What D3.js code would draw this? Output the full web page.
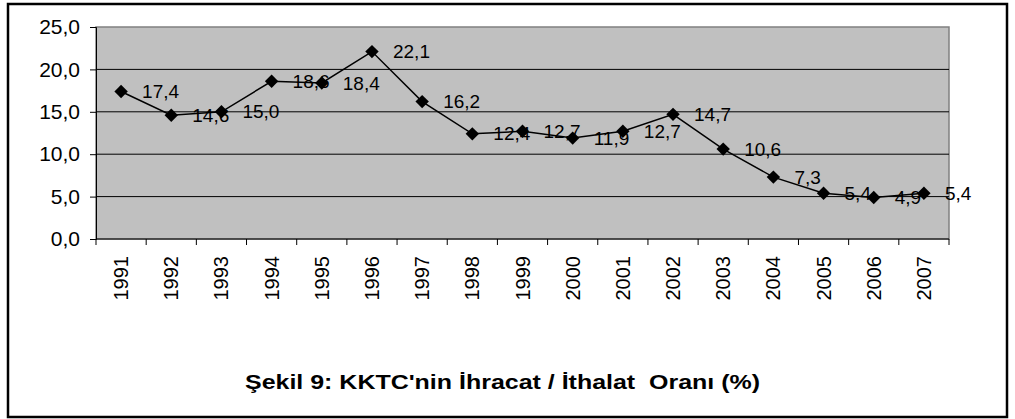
<!DOCTYPE html>
<html>
<head>
<meta charset="utf-8">
<script src="https://cdn.jsdelivr.net/npm/d3@7"></script>
<style>
  body { margin: 0; background: #fff; }
  text { font-family: "Liberation Sans", Arial, sans-serif; fill: #000; }
</style>
</head>
<body>
<div id="chart"></div>
<script>
// data
let years = ["1991","1992","1993","1994","1995","1996","1997","1998","1999","2000","2001","2002","2003","2004","2005","2006","2007"];
let ratio = [17.4, 14.6, 15.0, 18.6, 18.4, 22.1, 16.2, 12.4, 12.7, 11.9, 12.7, 14.7, 10.6, 7.3, 5.4, 4.9, 5.4];
let yTicks = [0, 5, 10, 15, 20, 25];
let title = "Şekil 9: KKTC'nin İhracat / İthalat  Oranı (%)";

let width = 1015,
    height = 419;
let plot = {left: 96, right: 949, top: 27, bottom: 239};

let svg = d3.select("div#chart").append("svg")
            .attr("width", width)
            .attr("height", height);

// outer frame
svg.append("rect")
  .attr("x", 8).attr("y", 4)
  .attr("width", 999).attr("height", 413)
  .style("fill", "none")
  .style("stroke", "#000")
  .style("stroke-width", 2.5);

let x = d3.scaleBand().domain(years).range([plot.left, plot.right]);
let y = d3.scaleLinear().domain([0, 25]).range([plot.bottom, plot.top]);
let fmt = function(v) { return d3.format(".1f")(v).replace(".", ","); };

// plot area
svg.append("rect")
  .attr("x", plot.left).attr("y", plot.top)
  .attr("width", plot.right - plot.left)
  .attr("height", plot.bottom - plot.top)
  .style("fill", "#c0c0c0")
  .style("stroke", "#808080")
  .style("stroke-width", 1.5);

// gridlines
svg.selectAll("line.grid")
  .data(yTicks.filter(d => d > 0 && d < 25))
  .enter().append("line")
  .attr("class", "grid")
  .attr("x1", plot.left).attr("x2", plot.right)
  .attr("y1", d => y(d)).attr("y2", d => y(d))
  .style("stroke", "#000")
  .style("stroke-width", 1);

// y axis
let yAxis = svg.append("g")
  .attr("transform", "translate(" + plot.left + ",0)")
  .call(d3.axisLeft(y).tickValues(yTicks).tickFormat(fmt).tickSize(6).tickPadding(10));
yAxis.select(".domain").style("stroke", "#000");
yAxis.selectAll("text").style("font-size", "21px").attr("font-family", null);

// x axis: ticks on category boundaries
svg.append("line")
  .attr("x1", plot.left).attr("x2", plot.right)
  .attr("y1", plot.bottom).attr("y2", plot.bottom)
  .style("stroke", "#000");
let bounds = years.map(d => x(d)).concat([plot.right]);
svg.selectAll("line.xtick")
  .data(bounds)
  .enter().append("line")
  .attr("class", "xtick")
  .attr("x1", d => d).attr("x2", d => d)
  .attr("y1", plot.bottom).attr("y2", plot.bottom + 6)
  .style("stroke", "#000");
svg.selectAll("text.year")
  .data(years)
  .enter().append("text")
  .attr("class", "year")
  .attr("transform", d => "translate(" + (x(d) + x.bandwidth() / 2 + 7) + "," + (plot.bottom + 17) + ") rotate(-90)")
  .attr("text-anchor", "end")
  .style("font-size", "20px")
  .text(d => d);

let cx = function(i) { return x(years[i]) + x.bandwidth() / 2; };

// data labels (under the line, like the original)
svg.selectAll("text.label")
  .data(ratio)
  .enter().append("text")
  .attr("class", "label")
  .attr("x", (d, i) => cx(i) + 21)
  .attr("y", d => y(d))
  .attr("dy", "0.35em")
  .style("font-size", "19px")
  .text(fmt);

// line
let line = d3.line()
  .x((d, i) => cx(i))
  .y(d => y(d));
svg.append("path")
  .datum(ratio)
  .attr("d", line)
  .style("fill", "none")
  .style("stroke", "#000")
  .style("stroke-width", 1.5);

// diamond markers
svg.selectAll("path.marker")
  .data(ratio)
  .enter().append("path")
  .attr("class", "marker")
  .attr("d", d3.symbol(d3.symbolSquare, 90))
  .attr("transform", (d, i) => "translate(" + cx(i) + "," + y(d) + ") rotate(45)")
  .style("fill", "#000");

// caption
svg.append("text")
  .attr("x", 245)
  .attr("y", 389)
  .attr("textLength", 515)
  .attr("lengthAdjust", "spacingAndGlyphs")
  .style("white-space", "pre")
  .style("font-size", "21px")
  .style("font-weight", "bold")
  .text(title);
</script>
</body>
</html>
